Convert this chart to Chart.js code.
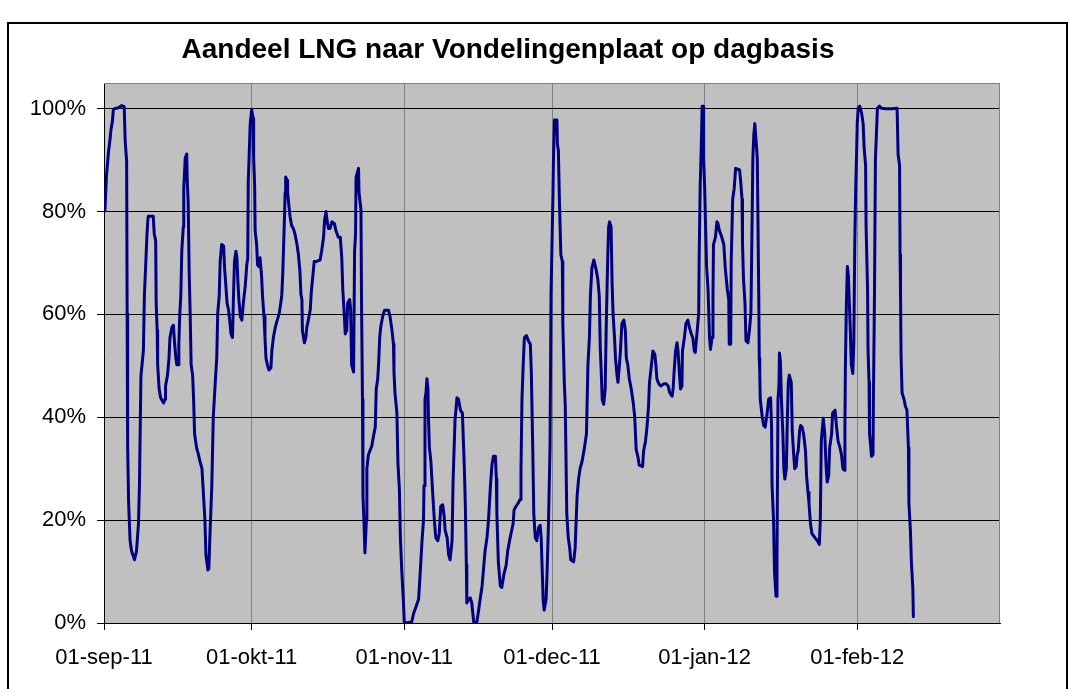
<!DOCTYPE html>
<html>
<head>
<meta charset="utf-8">
<script src="https://cdn.jsdelivr.net/npm/chart.js@4"></script>
<style>
  html, body { margin: 0; padding: 0; background: #fff; }
  #wrap { width: 1069px; height: 689px; }
</style>
</head>
<body>
<div id="wrap"><canvas id="c" width="1069" height="689"></canvas></div>
<script>
// ---- data (x = days since 01-sep-2011, y = share in %) ----
const days = [
  0.2,0.5,0.9,1.2,1.4,1.7,1.9,2.1,2.9,3.6,4.1,4.3,4.6,4.7,4.8,5.0,5.3,5.6,6.2,6.6,7.0,7.2,7.5,8.0,8.2,8.5,8.7,8.9,9.0,10.0,
  10.2,10.5,10.6,10.8,10.9,11.2,11.5,12.1,12.4,12.5,12.9,13.2,13.4,13.8,14.1,14.3,14.6,14.8,15.1,15.2,15.4,15.6,15.8,16.1,16.2,16.5,16.8,16.9,17.1,17.3,
  17.5,17.7,18.0,18.2,18.4,18.8,19.2,19.5,19.9,20.1,20.3,20.5,20.7,21.1,21.3,21.5,21.9,22.2,22.6,22.9,23.1,23.4,23.6,23.9,24.3,24.5,24.7,25.0,25.3,25.6,
  25.8,26.1,26.3,26.5,26.8,27.0,27.2,27.4,27.7,28.0,28.3,28.7,29.0,29.2,29.3,29.7,30.0,30.3,30.4,30.6,30.7,31.0,31.2,31.5,31.7,32.0,32.2,32.5,32.7,32.9,
  33.2,33.5,33.9,34.1,34.4,34.8,35.1,35.6,35.9,36.1,36.3,36.6,36.8,36.9,37.2,37.3,37.5,37.8,38.1,38.5,38.8,39.2,39.5,39.8,40.0,40.2,40.3,40.7,41.0,41.2,
  41.5,41.9,42.1,42.3,42.7,43.2,43.9,44.2,44.6,44.8,45.1,45.3,45.6,45.9,46.3,46.8,47.1,47.6,
  48.0,48.3,48.5,48.8,49.0,49.3,49.5,49.9,50.1,50.3,50.7,50.9,51.1,51.2,51.7,51.8,52.2,52.3,52.5,52.6,52.8,53.0,53.3,53.4,53.7,54.1,54.4,54.7,55.1,55.3,
  55.6,55.8,56.0,56.2,56.6,57.0,57.8,58.1,58.5,58.8,58.9,59.1,59.5,59.7,60.0,60.2,60.5,60.8,61.0,62.5,62.9,63.4,63.9,64.2,64.6,64.9,65.0,65.2,65.4,65.6,
  65.8,65.9,66.1,66.4,66.6,66.8,67.1,67.4,67.8,68.1,68.4,68.8,69.1,69.3,69.7,70.0,70.3,70.7,70.9,71.1,71.3,71.7,72.0,72.4,72.8,73.0,73.2,73.4,73.6,73.7,
  74.1,74.4,74.7,75.1,75.7,76.1,76.4,76.8,77.1,77.4,77.8,78.1,78.5,78.8,79.1,79.5,79.7,79.8,80.1,80.5,80.8,81.2,81.7,82.0,82.5,83.1,83.3,83.7,84.2,84.5,
  84.7,84.9,85.2,85.4,85.8,86.2,86.6,86.8,87.1,87.3,87.6,87.9,88.3,88.6,88.8,89.2,89.4,89.8,90.0,90.3,90.6,90.8,91.2,91.3,91.5,92.0,92.1,92.3,92.5,92.8,
  93.1,93.2,93.5,93.7,94.0,94.3,94.6,94.8,95.4,95.7,96.1,96.4,96.7,97.1,97.6,98.0,
  98.3,98.6,98.8,99.1,99.5,99.9,100.3,100.6,100.8,101.0,101.2,101.5,101.8,102.0,102.3,102.5,102.7,103.0,103.2,103.4,103.7,103.9,104.2,104.4,104.7,104.9,105.2,105.6,105.9,106.1,
  106.4,106.7,107.1,107.5,107.8,108.1,108.5,108.7,109.4,109.6,110.0,110.3,110.6,110.8,111.2,111.5,111.9,112.1,112.3,112.7,113.1,113.7,114.2,114.6,114.9,115.4,115.6,115.8,116.1,116.4,
  116.6,116.9,117.1,117.4,117.5,117.9,118.2,118.6,118.9,119.3,119.6,119.9,120.1,120.5,120.8,120.9,121.1,121.3,121.5,121.7,121.8,122.0,122.2,122.4,122.7,123.0,123.2,123.5,123.7,123.8,
  124.2,124.5,124.7,125.0,125.4,125.9,126.2,126.6,126.9,127.0,127.3,127.4,127.7,128.0,128.3,129.1,129.3,129.6,129.7,129.9,130.2,130.4,130.8,131.1,131.4,131.5,131.8,132.0,132.2,132.5,
  132.7,
  133.0,133.1,133.2,133.3,133.7,134.0,134.3,134.7,135.0,135.4,135.6,135.7,136.0,136.2,136.5,136.7,136.9,137.1,137.2,137.4,137.6,137.9,138.1,138.3,138.6,138.8,139.0,139.2,139.6,139.8,
  140.1,140.3,140.6,140.8,141.0,141.3,141.5,141.8,142.1,142.5,142.7,143.0,143.2,143.5,143.8,144.4,144.9,145.3,145.5,145.7,146.1,146.4,146.7,146.9,147.2,147.4,147.8,148.0,148.5,148.8,
  149.1,149.5,149.8,150.1,150.4,150.5,150.6,150.8,151.0,151.2,151.4,151.6,151.8,152.1,152.3,152.5,152.7,152.9,153.0,153.2,153.5,153.9,154.2,154.4,154.7,154.8,155.1,155.2,155.4,155.5,
  155.7,155.9,156.2,156.3,156.5,156.7,156.9,157.1,157.5,157.9,158.8,160.1,161.1,161.3,161.6,161.7,161.8,161.9,162.1,162.5,162.8,163.1,163.4,163.5,163.8,164.0,164.3,164.4
];
const share = [
  80.3,87,91.4,93.8,95.8,97.5,99.8,100,100.2,100.6,100.4,93.8,89.7,60.2,34.7,23.3,16,14,12.3,14,19.3,26.7,48,52.9,63.6,70.3,75,78.3,79.1,79.1,
  75.7,74.3,62.2,56.9,50.2,45.5,43.8,42.8,43.5,46.1,48.2,51.5,55.5,57.5,57.9,54.9,51.5,50.2,50.2,54.2,60.2,63.6,72.3,77,84.4,90.4,91.2,86.4,81.7,68.3,
  60.2,50.2,48.2,43.5,36.8,34.1,32.7,31.4,30,26.7,23.3,20,13.3,10.3,10.6,16.6,26.7,40.1,46.8,51.5,60.2,63.6,70.3,73.6,73.3,68.9,66.3,62.2,60.9,58.2,
  56.2,55.5,63.6,70.3,72.3,71,66.3,62.9,59.6,58.9,62.2,65.6,69.6,71,85.7,97.1,99.8,98.1,90.4,85,76.3,73.6,69.6,69.3,71,67.6,63.6,59.6,55.5,51.5,
  50.2,49.2,49.6,52.9,55.5,57.5,58.6,60.2,62.2,63.6,67.6,77,83.7,86.7,86.1,83.7,81.7,79,77.3,76.6,75.6,73.6,71.6,68.3,63.9,62.9,56.9,54.5,55.5,57.5,
  58.9,60.9,64.3,66.3,70.3,70.3,70.6,72.3,75,78.3,80,78.3,76.7,76.7,78,77.7,76.3,75,
  75,71,64.9,60.2,56.2,56.9,62.2,62.9,60.9,50.2,48.8,72.3,75.6,86.7,88.4,83.7,80.3,63.6,43.5,24.7,20,13.6,20,30,32.7,33.7,34.4,36.1,38.1,45.5,
  47.5,50.8,55.5,57.5,59.6,60.8,60.8,59.6,56.9,54.2,48.8,44.8,40.8,31.2,26,16.6,9.9,4.6,0,0.2,1.9,3.2,4.6,9.3,16,20,26.7,43.5,44.8,47.5,
  45.5,40.1,34.1,31.4,28,24.7,20,16.6,16,17.4,22.7,23,20.7,18,16.6,13.3,12.3,16,27.4,33.4,39.4,43.8,43.5,41.4,40.8,35.4,30,22.7,11.3,3.9,
  4.6,4.9,3.9,0.2,0,2.5,4.6,7.2,10.6,14,16.6,20,26.7,30.7,32.4,32.4,28,21.3,11.9,7.2,6.9,9.3,11.3,14,16.6,19.3,22,22.7,23.4,24,
  30,43.5,51.5,55.5,55.9,54.9,54.2,48.8,33.4,21.3,16.6,16,18.6,19,16.6,4.6,2.5,4.6,9.9,20,34.1,63.6,83.7,90.4,97.8,97.8,93.1,91.8,82.4,71.6,
  70.3,58.2,46.8,42.1,21.3,16.6,14.6,12.3,11.9,14.6,24.7,28,30,31.4,34.1,36.8,
  50.2,55.5,63.6,69,70.6,69,66.9,63.6,53.5,48.8,43.5,42.5,45.5,56.9,70.3,77,78,77,66.3,60.2,55.5,51.5,48.2,46.8,50.2,52.9,58.2,58.9,56.9,51.5,
  50.2,47.5,45.5,42.8,40.1,33.7,32.1,30.7,30.4,33.4,35.4,38.1,42.1,46.8,50.2,52.9,52.2,50.2,47.5,46.5,46.1,46.5,46.5,46.1,44.8,44.1,45.5,48.8,52.9,54.5,
  52.9,48.2,45.5,46.1,52.9,55.5,58.2,58.9,57.5,56.2,55.5,52.9,52.6,56.9,60.2,71.6,85,91.8,100.5,100.5,90.4,85,77,69.3,64.9,55.5,53.2,55.5,63.6,73.6,
  75,78,77.7,76.3,75.3,73.6,69,64.9,62.9,54.2,54.2,70.3,82.4,84.4,88.4,88.1,86.1,82.4,73.6,66.9,62.2,54.9,54.5,56.9,60.2,66.9,90.4,95.1,97.1,93.1,
  90.4,
  63.6,51.5,48.8,43.5,40.1,38.4,38.1,40.8,43.5,43.8,38.1,26.7,20,9.9,5.2,12.6,43.5,46.1,52.5,50.8,43.5,36.8,30,28,30,39.4,46.8,48.2,46.8,37.4,
  32.7,30,30.4,32.7,33.4,37.4,38.4,38.1,36.8,33.4,28.7,25.4,23.3,19.3,17.4,16.6,16,15.3,20,35.4,39.8,36.8,30,27.4,28.7,34.1,36.8,40.8,41.4,38.1,
  35.4,34.1,32.7,30,29.7,38.1,50.2,62.2,69.3,67.6,62.2,56.9,50.2,48.5,54.2,73.6,85,92.4,97.1,100.1,100.5,99.1,97.1,92.4,89,77,64.9,52.9,46.8,36.8,
  34.7,32.4,32.7,44.8,63.6,90.4,95.1,100.1,100.5,100.1,100,100,100.1,91.1,89,71.6,63.6,52.2,44.8,43.5,42.1,41.4,34.1,23.3,18,11.9,6.6,1.2
];
const monthTickDays = [0, 30, 61, 91, 122, 153];
const monthLabels = ['01-sep-11', '01-okt-11', '01-nov-11', '01-dec-11', '01-jan-12', '01-feb-12'];
const yTickValues = [0, 20, 40, 60, 80, 100];
const chartTitle = 'Aandeel LNG naar Vondelingenplaat op dagbasis';

const FONT = "'Liberation Sans', Arial, sans-serif";

const points = days.map((d, i) => ({ x: d, y: share[i] }));

const decor = {
  id: 'decor',
  beforeDraw(chart) {
    const { ctx, chartArea: a } = chart;
    ctx.save();
    ctx.fillStyle = '#ffffff';
    ctx.fillRect(0, 0, chart.width, chart.height);
    ctx.fillStyle = '#c0c0c0';
    ctx.fillRect(a.left, a.top, a.right - a.left, a.bottom - a.top);
    ctx.restore();
  },
  afterDraw(chart) {
    const { ctx, chartArea: a } = chart;
    ctx.save();
    // plot area border (top / right)
    ctx.strokeStyle = '#808080';
    ctx.lineWidth = 1;
    ctx.beginPath();
    ctx.moveTo(a.left, a.top + 0.5);
    ctx.lineTo(a.right - 0.5, a.top + 0.5);
    ctx.lineTo(a.right - 0.5, a.bottom);
    ctx.stroke();
    // outer frame
    ctx.strokeStyle = '#000';
    ctx.lineWidth = 2;
    ctx.strokeRect(8, 23, 1059, 720);
    // title
    ctx.fillStyle = '#000';
    ctx.font = 'bold 28px ' + FONT;
    ctx.textAlign = 'center';
    ctx.textBaseline = 'alphabetic';
    ctx.fillText(chartTitle, 508, 58);
    ctx.restore();
  }
};

new Chart(document.getElementById('c'), {
  type: 'line',
  data: {
    datasets: [{
      data: points,
      borderColor: '#000080',
      borderWidth: 3,
      pointRadius: 0,
      tension: 0,
      fill: false,
      borderJoinStyle: 'round',
      borderCapStyle: 'round'
    }]
  },
  options: {
    responsive: false,
    animation: false,
    events: [],
    layout: { padding: { left: 0, right: 69, top: 83, bottom: 0 } },
    plugins: { legend: { display: false }, title: { display: false }, tooltip: { enabled: false } },
    scales: {
      x: {
        type: 'linear',
        min: 0,
        max: 182,
        afterBuildTicks: s => { s.ticks = monthTickDays.map(v => ({ value: v })); },
        afterFit: s => { s.height = 66; },
        ticks: {
          autoSkip: false,
          maxRotation: 0,
          color: '#000',
          padding: 15,
          font: { family: FONT, size: 22 },
          callback: v => monthLabels[monthTickDays.indexOf(v)]
        },
        grid: { color: '#808080', tickColor: '#000', tickLength: 7, lineWidth: 1 },
        border: { color: '#000', width: 1 }
      },
      y: {
        min: 0,
        max: 105,
        afterBuildTicks: s => { s.ticks = yTickValues.map(v => ({ value: v })); },
        afterFit: s => { s.width = 104; },
        ticks: {
          color: '#000',
          padding: 11,
          font: { family: FONT, size: 22 },
          callback: v => v + '%'
        },
        grid: { color: '#000', tickColor: '#000', tickLength: 7, lineWidth: 1 },
        border: { color: '#000', width: 1 }
      }
    }
  },
  plugins: [decor]
});
</script>
</body>
</html>
